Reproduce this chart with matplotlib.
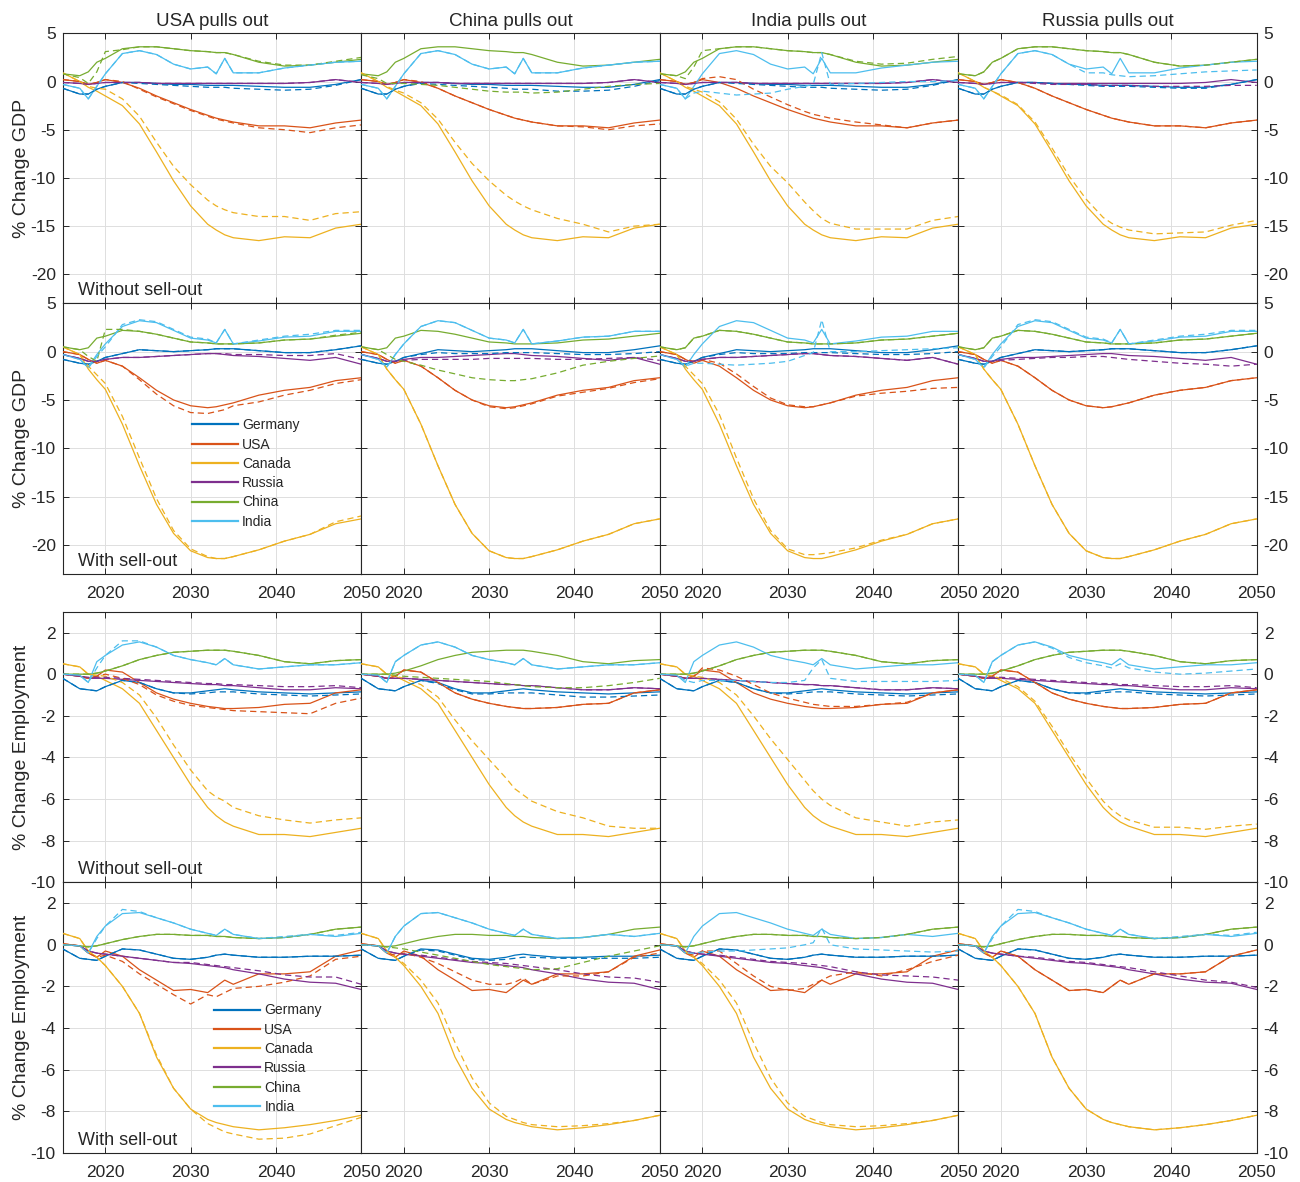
import matplotlib
matplotlib.use("Agg")
import matplotlib.pyplot as plt
from matplotlib.lines import Line2D

plt.rcParams['font.family'] = ['Liberation Sans', 'DejaVu Sans']
plt.rcParams['axes.unicode_minus'] = False

# ---------------- data ----------------
years = [2015, 2017, 2018, 2019, 2020, 2022, 2024, 2026, 2028, 2030, 2032, 2033,
         2034, 2035, 2038, 2041, 2044, 2047, 2050]
countries = ["Germany", "USA", "Canada", "Russia", "China", "India"]
scenarios = ["USA pulls out", "China pulls out", "India pulls out", "Russia pulls out"]
row_notes = ["Without sell-out", "With sell-out", "Without sell-out", "With sell-out"]
row_ylabels = ["% Change GDP", "% Change GDP", "% Change Employment", "% Change Employment"]
gdp_yticks = [-20, -15, -10, -5, 0, 5]
emp_yticks = [-10, -8, -6, -4, -2, 0, 2]
xticks = [2020, 2030, 2040, 2050]

# Row 1: GDP without sell-out (solid lines, shared across columns)
r1_germany = [-0.7, -1.3, -1.3, -0.8, -0.5, -0.1, -0.1, -0.2, -0.3, -0.3, -0.4, -0.4, -0.4, -0.4, -0.5, -0.6, -0.6, -0.3, 0.2]
r1_usa = [0.2, 0.0, -0.3, -0.1, 0.2, -0.1, -0.7, -1.5, -2.2, -2.9, -3.5, -3.8, -4.0, -4.2, -4.6, -4.6, -4.8, -4.3, -4.0]
r1_canada = [0.9, 0.0, -0.6, -1.0, -1.5, -2.5, -4.4, -7.3, -10.3, -12.9, -14.8, -15.4, -15.9, -16.2, -16.5, -16.1, -16.2, -15.2, -14.8]
r1_russia = [-0.1, -0.2, -0.3, -0.2, -0.1, -0.1, -0.1, -0.2, -0.2, -0.2, -0.2, -0.2, -0.2, -0.2, -0.2, -0.2, -0.1, 0.2, -0.1]
r1_china = [0.8, 0.6, 1.0, 2.0, 2.4, 3.4, 3.6, 3.6, 3.4, 3.2, 3.1, 3.0, 3.0, 2.8, 2.0, 1.6, 1.7, 2.0, 2.3]
r1_india = [-0.3, -0.7, -1.8, -0.5, 0.8, 2.9, 3.2, 2.8, 1.8, 1.3, 1.5, 0.8, 2.4, 0.9, 0.9, 1.4, 1.7, 2.0, 2.1]
# Row 1 dashed (pull-out scenarios)
r1c1_germany = [-0.7, -1.3, -1.3, -0.8, -0.5, -0.1, -0.2, -0.3, -0.4, -0.5, -0.6, -0.6, -0.6, -0.7, -0.8, -0.9, -0.8, -0.4, 0.2]
r1c1_usa = [0.2, 0.0, -0.3, -0.1, 0.2, 0.0, -0.8, -1.6, -2.3, -3.0, -3.6, -3.9, -4.1, -4.3, -4.8, -5.0, -5.3, -4.8, -4.5]
r1c1_canada = [0.9, 0.0, -0.5, -0.7, -0.8, -1.8, -3.6, -6.3, -8.8, -10.7, -12.3, -12.9, -13.3, -13.6, -14.0, -14.0, -14.4, -13.7, -13.5]
r1c1_china = [0.8, 0.4, -0.2, 1.0, 3.1, 3.3, 3.6, 3.6, 3.4, 3.2, 3.1, 3.0, 3.0, 2.8, 2.1, 1.7, 1.7, 2.1, 2.5]
r1c2_germany = [-0.7, -1.3, -1.3, -0.8, -0.5, -0.2, -0.3, -0.4, -0.5, -0.6, -0.7, -0.8, -0.8, -0.8, -1.0, -1.0, -0.9, -0.5, 0.1]
r1c2_usa = [0.2, 0.0, -0.3, -0.1, 0.2, 0.0, -0.7, -1.5, -2.2, -2.9, -3.5, -3.8, -4.0, -4.2, -4.6, -4.7, -5.0, -4.6, -4.4]
r1c2_canada = [0.9, 0.0, -0.5, -0.9, -1.2, -2.2, -3.9, -6.3, -8.5, -10.3, -11.8, -12.4, -12.9, -13.3, -14.2, -14.8, -15.6, -15.0, -14.8]
r1c2_china = [0.7, 0.3, -0.2, -0.2, -0.2, -0.3, -0.4, -0.6, -0.8, -1.0, -1.1, -1.1, -1.1, -1.2, -1.1, -0.8, -0.5, -0.3, -0.2]
r1c3_usa = [0.2, 0.0, -0.3, -0.1, 0.3, 0.5, 0.2, -0.8, -1.6, -2.4, -3.1, -3.4, -3.6, -3.8, -4.2, -4.5, -4.8, -4.3, -4.0]
r1c3_canada = [0.9, 0.0, -0.5, -0.8, -1.1, -2.1, -3.9, -6.5, -8.8, -10.5, -12.5, -13.4, -14.2, -14.7, -15.3, -15.3, -15.3, -14.4, -14.0]
r1c3_china = [0.8, 0.6, 0.3, 1.5, 3.2, 3.4, 3.6, 3.6, 3.4, 3.2, 3.1, 3.0, 3.0, 2.8, 2.1, 1.8, 1.9, 2.3, 2.6]
r1c3_india = [-0.3, -0.7, -1.8, -1.2, -1.0, -1.2, -1.4, -1.3, -1.2, -0.8, -0.5, -0.3, 3.0, -0.3, -0.2, -0.1, 0.0, 0.0, 0.1]
r1c4_germany = [-0.7, -1.3, -1.3, -0.8, -0.5, -0.1, -0.1, -0.2, -0.3, -0.4, -0.5, -0.5, -0.5, -0.5, -0.6, -0.7, -0.7, -0.3, 0.2]
r1c4_canada = [0.9, 0.0, -0.6, -1.0, -1.4, -2.4, -4.2, -6.9, -9.8, -12.2, -14.1, -14.7, -15.1, -15.4, -15.8, -15.7, -15.6, -14.9, -14.4]
r1c4_russia = [-0.1, -0.2, -0.3, -0.2, -0.1, -0.1, -0.2, -0.3, -0.3, -0.3, -0.4, -0.4, -0.4, -0.4, -0.5, -0.5, -0.5, -0.4, -0.4]
r1c4_india = [-0.3, -0.7, -1.8, -0.5, 0.8, 2.9, 3.2, 2.8, 1.8, 0.9, 0.9, 0.7, 0.6, 0.5, 0.6, 0.8, 1.0, 1.1, 1.2]

# Row 2: GDP with sell-out
r2_germany = [-0.8, -1.2, -1.3, -1.0, -0.6, -0.2, 0.2, 0.1, 0.0, 0.1, 0.2, 0.3, 0.3, 0.3, 0.1, -0.1, -0.1, 0.2, 0.6]
r2_usa = [0.0, -0.3, -0.8, -1.2, -0.9, -1.5, -2.7, -4.0, -5.0, -5.6, -5.8, -5.7, -5.5, -5.3, -4.5, -4.0, -3.7, -3.0, -2.7]
r2_canada = [0.5, -0.3, -1.8, -2.9, -3.9, -7.5, -11.8, -15.8, -18.8, -20.6, -21.3, -21.4, -21.4, -21.2, -20.5, -19.6, -18.9, -17.8, -17.3]
r2_russia = [-0.3, -0.7, -1.0, -1.0, -0.8, -0.6, -0.6, -0.5, -0.4, -0.3, -0.2, -0.2, -0.3, -0.4, -0.5, -0.7, -0.9, -0.6, -1.3]
r2_china = [0.5, 0.2, 0.4, 1.4, 1.6, 2.2, 2.1, 1.8, 1.4, 1.0, 0.9, 0.8, 0.8, 0.8, 0.9, 1.2, 1.3, 1.6, 1.9]
r2_india = [-0.3, -0.8, -1.6, -0.3, 0.8, 2.6, 3.2, 3.0, 2.2, 1.4, 1.2, 0.9, 2.3, 0.8, 1.1, 1.5, 1.6, 2.1, 2.1]
r2c1_usa = [0.0, -0.3, -0.8, -1.2, -0.9, -1.5, -2.9, -4.4, -5.6, -6.3, -6.4, -6.2, -6.0, -5.6, -5.2, -4.5, -4.0, -3.3, -2.9]
r2c1_canada = [0.5, -0.3, -1.5, -2.4, -3.3, -6.7, -11.0, -15.2, -18.5, -20.4, -21.2, -21.4, -21.4, -21.2, -20.5, -19.6, -18.9, -17.6, -17.0]
r2c1_russia = [-0.3, -0.7, -1.0, -1.0, -0.8, -0.6, -0.6, -0.5, -0.4, -0.3, -0.2, -0.2, -0.2, -0.3, -0.3, -0.4, -0.4, -0.2, -0.8]
r2c1_china = [0.5, 0.2, -0.5, -1.0, 2.3, 2.3, 2.1, 1.8, 1.4, 1.0, 0.9, 0.8, 0.8, 0.8, 0.9, 1.2, 1.3, 1.7, 2.0]
r2c1_india = [-0.3, -0.8, -1.7, -0.5, 0.5, 2.8, 3.3, 3.1, 2.3, 1.5, 1.3, 0.9, 2.3, 0.8, 1.2, 1.6, 1.8, 2.2, 2.2]
r2c2_germany = [-0.8, -1.2, -1.3, -1.0, -0.6, -0.3, -0.1, -0.2, -0.2, -0.2, -0.1, -0.1, -0.1, -0.1, -0.2, -0.3, -0.3, -0.2, 0.0]
r2c2_usa = [0.0, -0.3, -0.8, -1.2, -0.9, -1.5, -2.7, -4.0, -5.0, -5.7, -5.9, -5.8, -5.6, -5.4, -4.6, -4.2, -3.8, -3.2, -2.8]
r2c2_russia = [-0.3, -0.7, -1.0, -1.0, -0.9, -0.8, -0.8, -0.8, -0.8, -0.7, -0.7, -0.7, -0.7, -0.7, -0.8, -0.8, -0.7, -0.6, -0.9]
r2c2_china = [0.5, 0.2, -0.3, -0.8, -1.0, -1.4, -1.9, -2.3, -2.7, -2.9, -3.0, -3.0, -2.9, -2.8, -2.2, -1.4, -1.0, -0.7, -0.45]
r2c3_usa = [0.0, -0.3, -0.8, -1.0, -0.8, -1.2, -2.3, -3.6, -4.8, -5.5, -5.7, -5.7, -5.5, -5.3, -4.6, -4.3, -4.1, -3.8, -3.7]
r2c3_canada = [0.5, -0.3, -1.5, -2.4, -3.3, -6.5, -11.0, -15.2, -18.5, -20.4, -21.0, -21.0, -20.9, -20.8, -20.3, -19.5, -18.9, -17.8, -17.3]
r2c3_india = [-0.3, -0.8, -1.5, -1.2, -1.2, -1.3, -1.4, -1.3, -1.2, -1.0, -0.4, -0.1, 3.3, 0.0, 0.0, 0.1, 0.2, 0.3, 0.4]
r2c4_russia = [-0.3, -0.7, -1.0, -1.0, -0.9, -0.8, -0.7, -0.6, -0.6, -0.5, -0.5, -0.6, -0.7, -0.8, -1.0, -1.2, -1.3, -1.5, -1.3]

# Row 3: Employment without sell-out
r3_germany = [-0.2, -0.7, -0.75, -0.8, -0.6, -0.3, -0.4, -0.7, -0.9, -0.9, -0.8, -0.75, -0.7, -0.75, -0.85, -0.9, -0.95, -0.9, -0.85]
r3_usa = [0.0, -0.1, -0.2, -0.1, 0.2, 0.1, -0.4, -0.9, -1.2, -1.4, -1.55, -1.6, -1.65, -1.65, -1.6, -1.45, -1.4, -0.9, -0.75]
r3_canada = [0.5, 0.35, 0.0, -0.1, -0.3, -0.7, -1.4, -2.7, -4.0, -5.3, -6.4, -6.8, -7.1, -7.3, -7.7, -7.7, -7.8, -7.6, -7.4]
r3_russia = [0.0, -0.1, -0.2, -0.2, -0.2, -0.25, -0.3, -0.35, -0.4, -0.45, -0.5, -0.5, -0.55, -0.55, -0.65, -0.75, -0.75, -0.65, -0.7]
r3_china = [0.0, 0.0, 0.0, 0.05, 0.15, 0.4, 0.7, 0.9, 1.05, 1.1, 1.15, 1.15, 1.15, 1.1, 0.9, 0.6, 0.5, 0.65, 0.7]
r3_india = [0.0, -0.05, -0.4, 0.6, 0.9, 1.4, 1.55, 1.3, 0.9, 0.7, 0.55, 0.45, 0.75, 0.45, 0.25, 0.35, 0.45, 0.45, 0.55]
r3c1_germany = [-0.2, -0.7, -0.75, -0.8, -0.6, -0.3, -0.4, -0.7, -0.9, -0.95, -0.9, -0.85, -0.85, -0.85, -0.95, -1.0, -1.05, -1.0, -0.95]
r3c1_usa = [0.0, -0.1, -0.2, -0.1, 0.0, -0.2, -0.5, -1.0, -1.3, -1.5, -1.6, -1.65, -1.7, -1.75, -1.8, -1.85, -1.9, -1.4, -1.15]
r3c1_canada = [0.5, 0.35, 0.0, -0.05, -0.1, -0.4, -1.0, -2.1, -3.4, -4.6, -5.6, -5.9, -6.1, -6.4, -6.8, -7.0, -7.15, -7.0, -6.9]
r3c1_russia = [0.0, -0.1, -0.15, -0.15, -0.15, -0.2, -0.25, -0.3, -0.35, -0.4, -0.45, -0.45, -0.5, -0.5, -0.55, -0.6, -0.6, -0.55, -0.65]
r3c1_india = [0.0, -0.05, -0.4, 0.3, 0.9, 1.6, 1.6, 1.3, 0.9, 0.7, 0.55, 0.45, 0.75, 0.45, 0.25, 0.35, 0.45, 0.45, 0.55]
r3c2_germany = [-0.2, -0.7, -0.75, -0.8, -0.6, -0.3, -0.45, -0.75, -0.95, -0.95, -0.9, -0.9, -0.9, -0.9, -1.0, -1.1, -1.1, -1.05, -1.0]
r3c2_canada = [0.5, 0.35, 0.0, -0.1, -0.2, -0.5, -1.1, -2.2, -3.2, -4.1, -5.0, -5.5, -5.8, -6.1, -6.6, -6.9, -7.3, -7.4, -7.4]
r3c2_china = [0.0, 0.0, 0.0, -0.05, -0.1, -0.15, -0.2, -0.25, -0.3, -0.35, -0.45, -0.5, -0.55, -0.6, -0.65, -0.65, -0.55, -0.4, -0.2]
r3c3_usa = [0.0, -0.1, -0.2, -0.1, 0.3, 0.2, -0.1, -0.5, -0.9, -1.15, -1.35, -1.45, -1.5, -1.55, -1.55, -1.45, -1.35, -0.9, -0.75]
r3c3_canada = [0.5, 0.35, 0.0, -0.1, -0.15, -0.4, -1.0, -2.0, -3.1, -4.1, -5.1, -5.6, -6.0, -6.3, -6.9, -7.1, -7.3, -7.1, -7.0]
r3c3_india = [0.0, -0.05, -0.3, -0.4, -0.3, -0.3, -0.3, -0.35, -0.4, -0.4, -0.3, 0.3, 0.7, -0.2, -0.35, -0.35, -0.35, -0.35, -0.3]
r3c4_canada = [0.5, 0.35, 0.0, -0.1, -0.2, -0.6, -1.3, -2.5, -3.8, -5.0, -6.1, -6.5, -6.8, -7.0, -7.35, -7.35, -7.45, -7.3, -7.2]
r3c4_india = [0.0, -0.05, -0.4, 0.6, 0.9, 1.4, 1.55, 1.25, 0.8, 0.55, 0.4, 0.3, 0.5, 0.3, 0.1, 0.0, 0.05, 0.15, 0.25]

# Row 4: Employment with sell-out
r4_germany = [-0.2, -0.65, -0.7, -0.75, -0.55, -0.2, -0.25, -0.45, -0.65, -0.7, -0.6, -0.5, -0.45, -0.5, -0.6, -0.6, -0.55, -0.55, -0.5]
r4_usa = [0.05, -0.05, -0.4, -0.6, -0.3, -0.55, -1.2, -1.7, -2.2, -2.15, -2.3, -2.0, -1.7, -1.9, -1.4, -1.4, -1.3, -0.55, -0.25]
r4_canada = [0.55, 0.3, -0.3, -0.6, -1.0, -2.0, -3.3, -5.4, -6.9, -7.9, -8.4, -8.55, -8.65, -8.75, -8.9, -8.8, -8.65, -8.45, -8.2]
r4_russia = [0.0, -0.05, -0.3, -0.4, -0.45, -0.55, -0.65, -0.75, -0.85, -0.9, -1.0, -1.05, -1.1, -1.2, -1.4, -1.65, -1.8, -1.85, -2.15]
r4_china = [0.0, -0.05, -0.1, -0.05, 0.05, 0.25, 0.4, 0.5, 0.5, 0.45, 0.45, 0.4, 0.4, 0.35, 0.3, 0.35, 0.5, 0.75, 0.85]
r4_india = [0.0, -0.05, -0.4, 0.4, 0.9, 1.5, 1.55, 1.3, 1.05, 0.75, 0.55, 0.45, 0.75, 0.5, 0.3, 0.35, 0.5, 0.4, 0.55]
r4c1_usa = [0.05, -0.05, -0.4, -0.6, -0.5, -0.8, -1.4, -1.9, -2.4, -2.85, -2.4, -2.5, -2.3, -2.1, -2.0, -1.8, -1.5, -0.7, -0.55]
r4c1_canada = [0.55, 0.3, -0.3, -0.6, -1.0, -2.0, -3.3, -5.3, -6.9, -7.9, -8.6, -8.8, -9.0, -9.1, -9.35, -9.3, -9.1, -8.7, -8.3]
r4c1_russia = [0.0, -0.05, -0.3, -0.4, -0.45, -0.55, -0.65, -0.75, -0.85, -0.85, -0.95, -1.0, -1.05, -1.1, -1.25, -1.45, -1.55, -1.55, -1.9]
r4c1_india = [0.0, -0.05, -0.4, 0.3, 0.9, 1.7, 1.6, 1.3, 1.05, 0.75, 0.55, 0.45, 0.75, 0.5, 0.3, 0.4, 0.5, 0.45, 0.6]
r4c2_germany = [-0.2, -0.65, -0.7, -0.75, -0.55, -0.25, -0.3, -0.5, -0.7, -0.75, -0.7, -0.65, -0.6, -0.6, -0.65, -0.65, -0.65, -0.65, -0.6]
r4c2_usa = [0.05, -0.05, -0.4, -0.5, -0.4, -0.6, -0.9, -1.3, -1.7, -1.9, -1.9, -1.8, -1.6, -1.9, -1.5, -1.5, -1.3, -0.6, -0.4]
r4c2_canada = [0.55, 0.3, -0.3, -0.6, -0.9, -1.7, -2.8, -4.7, -6.4, -7.6, -8.25, -8.4, -8.55, -8.65, -8.75, -8.7, -8.6, -8.45, -8.2]
r4c2_russia = [0.0, -0.05, -0.3, -0.4, -0.45, -0.5, -0.6, -0.7, -0.8, -0.85, -0.9, -0.95, -1.0, -1.05, -1.2, -1.4, -1.55, -1.6, -1.8]
r4c2_china = [0.0, -0.05, -0.1, -0.15, -0.2, -0.35, -0.5, -0.65, -0.8, -0.95, -1.05, -1.1, -1.15, -1.2, -1.15, -0.85, -0.55, -0.3, -0.05]
r4c3_usa = [0.05, -0.05, -0.4, -0.5, -0.3, -0.3, -0.9, -1.5, -2.0, -2.2, -2.1, -1.9, -1.7, -1.5, -1.3, -1.5, -1.2, -0.8, -0.5]
r4c3_russia = [0.0, -0.05, -0.3, -0.4, -0.45, -0.5, -0.6, -0.7, -0.8, -0.85, -0.9, -0.95, -1.0, -1.05, -1.3, -1.45, -1.5, -1.55, -1.7]
r4c3_india = [0.0, -0.05, -0.4, -0.4, -0.35, -0.3, -0.3, -0.25, -0.2, -0.15, 0.0, 0.1, 0.8, 0.0, -0.2, -0.25, -0.3, -0.35, -0.3]
r4c4_russia = [0.0, -0.05, -0.3, -0.4, -0.45, -0.55, -0.6, -0.7, -0.8, -0.85, -0.95, -1.0, -1.05, -1.1, -1.3, -1.5, -1.7, -1.8, -2.05]

# order of every list below: Germany, USA, Canada, Russia, China, India
solid_by_row = [
    [r1_germany, r1_usa, r1_canada, r1_russia, r1_china, r1_india],
    [r2_germany, r2_usa, r2_canada, r2_russia, r2_china, r2_india],
    [r3_germany, r3_usa, r3_canada, r3_russia, r3_china, r3_india],
    [r4_germany, r4_usa, r4_canada, r4_russia, r4_china, r4_india],
]
dashed_by_panel = [
    [
        [r1c1_germany, r1c1_usa, r1c1_canada, r1_russia, r1c1_china, r1_india],
        [r1c2_germany, r1c2_usa, r1c2_canada, r1_russia, r1c2_china, r1_india],
        [r1c1_germany, r1c3_usa, r1c3_canada, r1_russia, r1c3_china, r1c3_india],
        [r1c4_germany, r1_usa, r1c4_canada, r1c4_russia, r1_china, r1c4_india],
    ],
    [
        [r2_germany, r2c1_usa, r2c1_canada, r2c1_russia, r2c1_china, r2c1_india],
        [r2c2_germany, r2c2_usa, r2_canada, r2c2_russia, r2c2_china, r2_india],
        [r2c2_germany, r2c3_usa, r2c3_canada, r2_russia, r2_china, r2c3_india],
        [r2_germany, r2_usa, r2_canada, r2c4_russia, r2_china, r2c1_india],
    ],
    [
        [r3c1_germany, r3c1_usa, r3c1_canada, r3c1_russia, r3_china, r3c1_india],
        [r3c2_germany, r3_usa, r3c2_canada, r3_russia, r3c2_china, r3_india],
        [r3c1_germany, r3c3_usa, r3c3_canada, r3_russia, r3_china, r3c3_india],
        [r3c1_germany, r3_usa, r3c4_canada, r3c1_russia, r3_china, r3c4_india],
    ],
    [
        [r4_germany, r4c1_usa, r4c1_canada, r4c1_russia, r4_china, r4c1_india],
        [r4c2_germany, r4c2_usa, r4c2_canada, r4c2_russia, r4c2_china, r4_india],
        [r4_germany, r4c3_usa, r4c2_canada, r4c3_russia, r4_china, r4c3_india],
        [r4_germany, r4_usa, r4_canada, r4c4_russia, r4_china, r4c1_india],
    ],
]

# ---------------- style ----------------
colors = ["#0072BD", "#D95319", "#EDB120", "#7E2F8E", "#77AC30", "#4DBEEE"]
text_color = "#262626"
W, H = 1300, 1182
fig = plt.figure(figsize=(W / 100, H / 100), dpi=100)

left_px = 62.7
panel_w = 298.5
row_px = [(33.3, 303.3), (303.3, 574.0), (611.7, 882.4), (882.4, 1152.7)]
ylims = [(-23, 5), (-23, 5), (-10, 3), (-10, 3)]

for r in range(4):
    top, bot = row_px[r]
    for c in range(4):
        ax = fig.add_axes([(left_px + c * panel_w) / W, 1 - bot / H,
                           panel_w / W, (bot - top) / H])
        for k in range(6):
            ax.plot(years, solid_by_row[r][k], color=colors[k], lw=0.9, zorder=3)
        for k in range(6):
            ax.plot(years, dashed_by_panel[r][c][k], color=colors[k], lw=0.9,
                    dashes=(5, 3.2), zorder=3)
        ax.set_xlim(2015, 2050)
        ax.set_ylim(*ylims[r])
        ax.set_xticks(xticks)
        ax.set_yticks(gdp_yticks if r < 2 else emp_yticks)
        ax.grid(True, color="#dedede", lw=0.7, zorder=0)
        ax.set_axisbelow(True)
        for sp in ax.spines.values():
            sp.set_color(text_color)
            sp.set_linewidth(0.8)
        ax.tick_params(direction="in", length=4, width=0.7, top=True, right=True,
                       colors=text_color, labelsize=12.5,
                       labelbottom=(r in (1, 3)), labelleft=(c == 0),
                       labelright=(c == 3))
        ax.tick_params(axis="x", pad=9)
        ax.tick_params(axis="y", pad=5)
        if r == 0:
            ax.set_title(scenarios[c], fontsize=13.5, color=text_color, pad=5)
        if c == 0:
            ax.set_ylabel(row_ylabels[r], fontsize=14, color=text_color)
            ax.yaxis.set_label_coords(-0.108, 0.5)
            ax.text(0.05, 0.03, row_notes[r], transform=ax.transAxes, fontsize=13,
                    color=text_color, ha="left", va="baseline", zorder=5)
            if r in (1, 3):
                handles = [Line2D([0], [0], color=colors[k], lw=1.6) for k in range(6)]
                anchor = (0.433, 0.575) if r == 1 else (0.508, 0.552)
                leg = ax.legend(handles, countries, loc="upper left", bbox_to_anchor=anchor,
                                frameon=False, fontsize=10, handlelength=3.3,
                                handletextpad=0.3, labelspacing=0.38,
                                borderaxespad=0, borderpad=0)
                for t in leg.get_texts():
                    t.set_color(text_color)

fig.savefig("out.png", dpi=100)
